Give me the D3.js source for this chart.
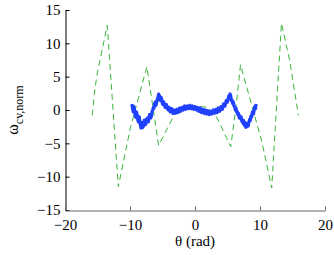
<!DOCTYPE html>
<html>
<head>
<meta charset="utf-8">
<script src="https://cdn.jsdelivr.net/npm/d3@7"></script>
<style>
html,body{margin:0;padding:0;background:#fff;}
svg{display:block;}
</style>
</head>
<body>
<svg id="chart" width="334" height="255"></svg>
<script>
const xTicks = [-20, -10, 0, 10, 20];
const yTicks = [-15, -10, -5, 0, 5, 10, 15];

const greenTheta = [-15.8, -15.5, -15.1, -13.5, -11.8, -9.9, -7.4, -5.6, -2.8, -1.5, 0, 2.0, 3.3, 5.5, 6.3, 7.0, 10.3, 11.8, 13.3, 14.6, 15.9];
const greenOmega = [-0.8, 2.3, 5.2, 12.7, -11.5, -2.5, 6.5, -5.3, 0.0, 0.5, 0.6, 0.4, -1.0, -5.5, 0.3, 6.8, -4.8, -11.7, 13.0, 7.3, -0.8];

const blueTheta = [-9.7,-9.6,-9.5,-9.4,-9.3,-9.2,-9.1,-9.0,-8.9,-8.8,-8.7,-8.6,-8.5,-8.4,-8.3,-8.2,-8.1,-8.0,-7.9,-7.8,-7.7,-7.6,-7.5,-7.4,-7.3,-7.2,-7.1,-7.0,-6.9,-6.8,-6.7,-6.6,-6.5,-6.4,-6.3,-6.2,-6.1,-6.0,-5.9,-5.8,-5.7,-5.6,-5.5,-5.4,-5.3,-5.2,-5.1,-5.0,-4.9,-4.8,-4.7,-4.6,-4.5,-4.4,-4.3,-4.2,-4.1,-4.0,-3.9,-3.8,-3.7,-3.6,-3.5,-3.4,-3.3,-3.2,-3.1,-3.0,-2.9,-2.8,-2.7,-2.6,-2.5,-2.4,-2.3,-2.2,-2.1,-2.0,-1.9,-1.8,-1.7,-1.6,-1.5,-1.4,-1.3,-1.2,-1.1,-1.0,-0.9,-0.8,-0.7,-0.6,-0.5,-0.4,-0.3,-0.2,-0.1,0.0,0.1,0.2,0.3,0.4,0.5,0.6,0.7,0.8,0.9,1.0,1.1,1.2,1.3,1.4,1.5,1.6,1.7,1.8,1.9,2.0,2.1,2.2,2.3,2.4,2.5,2.6,2.7,2.8,2.9,3.0,3.1,3.2,3.3,3.4,3.5,3.6,3.7,3.8,3.9,4.0,4.1,4.2,4.3,4.4,4.5,4.6,4.7,4.8,4.9,5.0,5.1,5.2,5.3,5.4,5.5,5.6,5.7,5.8,5.9,6.0,6.1,6.2,6.3,6.4,6.5,6.6,6.7,6.8,6.9,7.0,7.1,7.2,7.3,7.4,7.5,7.6,7.7,7.8,7.9,8.0,8.1,8.2,8.3,8.4,8.5,8.6,8.7,8.8,8.9,9.0,9.1,9.2,9.3,9.4,9.5,9.6,9.7];
const blueOmega = [0.9,0.2,-0.3,0.5,0.1,-0.9,-1.1,-0.3,-0.7,-1.5,-1.8,-1.0,-1.5,-2.3,-2.7,-1.9,-1.9,-2.6,-2.3,-1.5,-1.7,-2.2,-1.8,-1.3,-1.2,-1.8,-1.4,-0.7,-0.7,-1.2,-0.9,-0.2,0.0,0.4,0.3,1.0,1.2,0.7,1.1,1.6,1.9,2.4,2.2,1.5,1.4,1.9,1.5,0.9,0.8,1.2,0.9,0.4,0.4,0.8,0.5,0.1,0.0,0.4,0.2,-0.3,-0.2,0.2,0.0,-0.5,-0.4,0.0,-0.2,-0.5,-0.3,0.1,-0.1,-0.4,-0.2,0.3,0.1,-0.2,0.0,0.4,0.3,0.0,0.2,0.6,0.4,0.1,0.3,0.6,0.4,0.2,0.4,0.7,0.5,0.2,0.3,0.6,0.4,0.1,0.3,0.5,0.3,0.0,0.2,0.4,0.2,-0.2,0.0,0.3,0.0,-0.4,-0.2,0.1,-0.1,-0.5,-0.3,0.0,-0.2,-0.6,-0.4,-0.1,-0.3,-0.7,-0.5,-0.2,-0.4,-0.6,-0.3,0.0,-0.2,-0.5,-0.2,0.1,-0.1,-0.4,0.0,0.3,0.1,-0.2,0.2,0.5,0.3,0.1,0.5,0.9,0.7,0.6,1.0,1.4,1.3,1.2,1.7,2.1,2.0,2.4,2.1,1.4,1.5,1.0,1.2,0.6,0.5,0.0,0.3,-0.3,-0.2,-0.7,-0.5,-1.2,-0.9,-1.3,-1.0,-1.7,-1.5,-2.0,-1.6,-2.3,-1.9,-2.6,-2.2,-2.5,-2.0,-2.4,-1.8,-1.4,-1.6,-0.9,-1.1,-0.4,-0.2,-0.6,0.0,0.5,0.2,0.9];

const FONT = "'Liberation Serif'";
const svg = d3.select("#chart");
const x = d3.scaleLinear().domain([-20, 20]).range([65, 325]);
const y = d3.scaleLinear().domain([-15, 15]).range([210, 10]);

const line = d3.line().x(d => x(d[0])).y(d => y(d[1]));

// green dashed
svg.append("path")
  .datum(greenTheta.map((t, i) => [t, greenOmega[i]]))
  .attr("d", line)
  .attr("fill", "none")
  .attr("stroke", "#3cb43c")
  .attr("stroke-width", 1)
  .attr("stroke-dasharray", "6,4");

// blue
svg.append("path")
  .datum(blueTheta.map((t, i) => [t, blueOmega[i]]))
  .attr("d", line)
  .attr("fill", "none")
  .attr("stroke", "#2040ff")
  .attr("stroke-width", 3.2)
  .attr("stroke-linejoin", "round");

// axes
const yAxis = svg.append("g")
  .attr("transform", "translate(65.5,0)")
  .call(d3.axisLeft(y).tickValues(yTicks).tickSizeInner(-4).tickSizeOuter(0).tickPadding(5));
yAxis.select(".domain").attr("stroke", "#000");
yAxis.selectAll("text").style("font-family", FONT).style("font-size", "15px").attr("fill", "#000");

const xAxis = svg.append("g")
  .attr("transform", "translate(0,210.5)")
  .call(d3.axisBottom(x).tickValues(xTicks).tickSizeInner(-4).tickSizeOuter(0).tickPadding(9));
xAxis.select(".domain").attr("stroke", "#666");
xAxis.selectAll(".tick line").attr("stroke", "#666");
xAxis.selectAll("text").style("font-family", FONT).style("font-size", "15px").attr("fill", "#000");

// titles
svg.append("text")
  .attr("x", 195).attr("y", 246)
  .attr("text-anchor", "middle")
  .style("font-family", FONT)
  .style("font-size", "15px")
  .text("θ (rad)");

const yl = svg.append("text")
  .attr("transform", "translate(18,110) rotate(-90)")
  .attr("text-anchor", "middle")
  .style("font-family", FONT)
  .style("font-size", "16px");
yl.append("tspan").text("ω");
yl.append("tspan").style("font-size", "12px").attr("dy", "5").text("cv,norm");
</script>
</body>
</html>
